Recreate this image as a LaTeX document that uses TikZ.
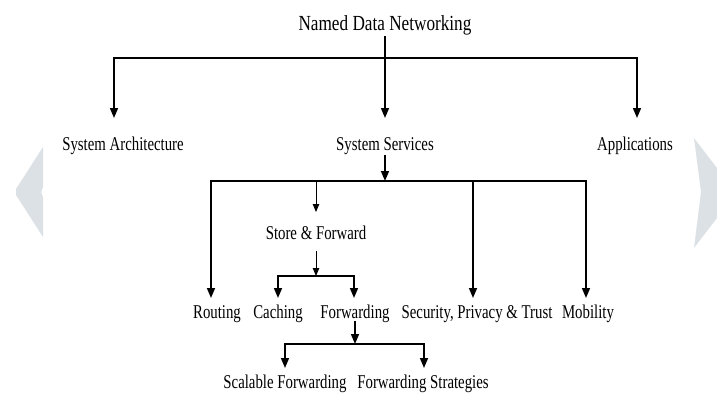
\documentclass[tikz,border=0pt]{standalone}
\usepackage{fontspec}
\setmainfont{Liberation Serif}
\newfontfamily\lblfont{Liberation Serif}[FakeStretch=0.76]
\newfontfamily\ttlfont{Liberation Serif}[FakeStretch=0.8]
\usetikzlibrary{arrows.meta}
\definecolor{chev}{RGB}{220,225,230}
\tikzset{
  lbl/.style={anchor=base, inner sep=0pt, font=\lblfont\fontsize{19.5}{21}\selectfont},
  ttl/.style={anchor=base, inner sep=0pt, font=\ttlfont\fontsize{21.5}{24}\selectfont},
  thickln/.style={line width=1.5pt, line cap=rect},
  arr/.style={line width=1.5pt, -{Triangle[width=8pt,length=10pt]}},
  tarr/.style={line width=0.9pt, -{Triangle[width=6.5pt,length=8pt]}},
}
\begin{document}
\begin{tikzpicture}[x=1pt,y=-1pt]
\useasboundingbox (0,0) rectangle (717,394);
% background chevrons
\fill[chev] (43,147)--(16,189)--(16,195)--(43,237)--(43,197)--(41,192)--(43,187)--cycle;
\fill[chev] (694,138)--(717,168)--(717,218)--(694,248)--(701,192)--cycle;

% nodes
\node[ttl] (ndn) at (385,30) {Named Data Networking};
\node[lbl] (sa) at (123,150) {System Architecture};
\node[lbl] (ss) at (385,150) {System Services};
\node[lbl] (app) at (635,150) {Applications};
\node[lbl] (sf) at (316,239) {Store \& Forward};
\node[lbl] (rt) at (217,318) {Routing};
\node[lbl] (ca) at (278,318) {Caching};
\node[lbl] (fw) at (355,318) {Forwarding};
\node[lbl] (sec) at (477,318) {Security, Privacy \& Trust};
\node[lbl] (mob) at (588,318) {Mobility};
\node[lbl] (scf) at (285,388) {Scalable Forwarding};
\node[lbl] (fws) at (423,388) {Forwarding Strategies};

% level 1
\coordinate (ndnb) at (385,36);
\coordinate (b1L) at (114,58);
\coordinate (b1M) at (385,58);
\coordinate (b1R) at (637,58);
\coordinate (t1L) at (114,118);
\coordinate (t1M) at (385,118);
\coordinate (t1R) at (637,118);
\draw[line width=1.3pt] (ndnb) -- (b1M);
\draw[thickln] (b1L) -- (b1R);
\draw[arr] (b1L) -- (t1L);
\draw[arr] (b1M) -- (t1M);
\draw[arr] (b1R) -- (t1R);

% level 2
\coordinate (s0) at (385,155);
\coordinate (b2M) at (385,181);
\coordinate (b2L) at (211,181);
\coordinate (b2S) at (316,181);
\coordinate (b2P) at (473,181);
\coordinate (b2R) at (586,181);
\draw[arr] (s0) -- (b2M);
\draw[thickln] (b2L) -- (b2R);
\draw[arr] (b2L) -- (211,298) coordinate (t2rt);
\draw[tarr] (b2S) -- (316,212) coordinate (t2sf);
\draw[arr] (b2P) -- (473,298) coordinate (t2sec);
\draw[arr] (b2R) -- (586,298) coordinate (t2mob);

% store & forward
\coordinate (sf0) at (316,251);
\coordinate (b3M) at (316,276);
\coordinate (b3L) at (278,276);
\coordinate (b3R) at (354,276);
\draw[tarr] (sf0) -- (b3M);
\draw[thickln] (b3L) -- (b3R);
\draw[arr] (b3L) -- (278,298) coordinate (t3ca);
\draw[arr] (b3R) -- (354,298) coordinate (t3fw);

% forwarding
\coordinate (fw0) at (355,321);
\coordinate (b4M) at (355,344);
\coordinate (b4L) at (285,344);
\coordinate (b4R) at (424,344);
\draw[arr] (fw0) -- (b4M);
\draw[thickln] (b4L) -- (b4R);
\draw[arr] (b4L) -- (285,368) coordinate (t4sc);
\draw[arr] (b4R) -- (424,368) coordinate (t4st);
\end{tikzpicture}
\end{document}
